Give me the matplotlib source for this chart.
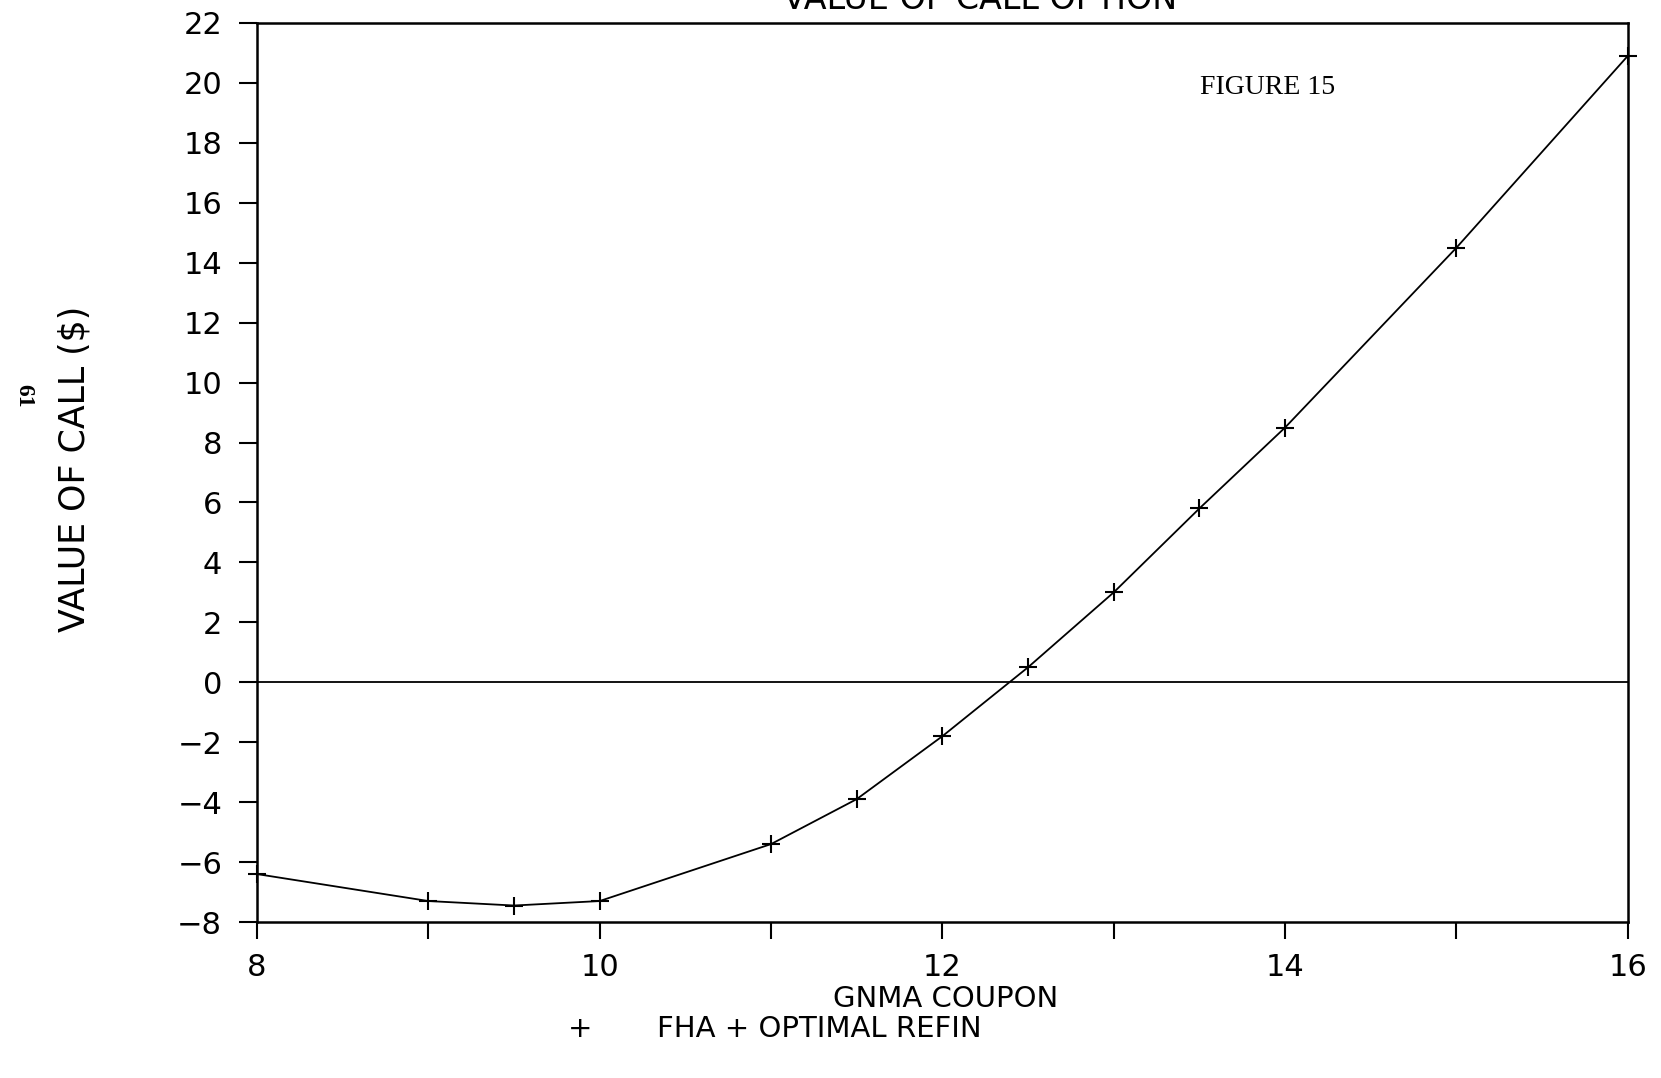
import matplotlib
matplotlib.use("Agg")
import matplotlib.pyplot as plt
from matplotlib.ticker import MultipleLocator

coupon = [8, 9, 9.5, 10, 11, 11.5, 12, 12.5, 13, 13.5, 14, 15, 16]
call_value = [-6.4, -7.3, -7.45, -7.3, -5.4, -3.9, -1.8, 0.5, 3.0, 5.8, 8.5, 14.5, 20.9]
x_ticks = [8, 10, 12, 14, 16]
y_ticks = [-8, -6, -4, -2, 0, 2, 4, 6, 8, 10, 12, 14, 16, 18, 20, 22]

plt.rcParams['font.family'] = ['DejaVu Sans']
fig = plt.figure(figsize=(16.61, 10.78), dpi=100)
ax = fig.add_axes([0.1547, 0.1447, 0.980 - 0.1547, 0.9787 - 0.1447])

ax.plot(coupon, call_value, color='black', lw=1.3, marker='+', ms=13, mew=1.5,
        clip_on=False, zorder=3)
ax.axhline(0, color='black', lw=1.3)

ax.set_xlim(8, 16)
ax.set_ylim(-8, 22)
ax.set_xticks(x_ticks)
ax.xaxis.set_minor_locator(MultipleLocator(1))
ax.set_yticks(y_ticks)
ax.tick_params(axis='both', which='both', direction='out', width=1.5, color='black')
ax.tick_params(axis='x', which='both', length=12, pad=10, labelsize=22)
ax.tick_params(axis='y', which='both', length=13, pad=12, labelsize=22)
ax.set_xticklabels([str(v) for v in x_ticks])
ax.set_yticklabels([str(v).replace('-', '\u2212') for v in y_ticks])
for s in ax.spines.values():
    s.set_linewidth(1.8)

fig.text(0.590, 0.9921, 'VALUE OF CALL OPTION', ha='center', va='baseline', fontsize=24)
fig.text(0.7225, 0.919, 'FIGURE 15', ha='left', va='center', fontsize=20,
         family='Liberation Serif')
fig.text(0.5696, 0.0733, 'GNMA COUPON', ha='center', va='center', fontsize=21)
fig.text(0.349, 0.0458, '+', ha='center', va='center', fontsize=21)
fig.text(0.3955, 0.0458, 'FHA + OPTIMAL REFIN', ha='left', va='center', fontsize=21)
fig.text(0.0446, 0.565, 'VALUE OF CALL ($)', ha='center', va='center', rotation=90, fontsize=25)
fig.text(0.0140, 0.633, '61', ha='center', va='center', rotation=-90, fontsize=17,
         fontweight='bold', family='Liberation Serif')

fig.savefig('out.png', dpi=100)
